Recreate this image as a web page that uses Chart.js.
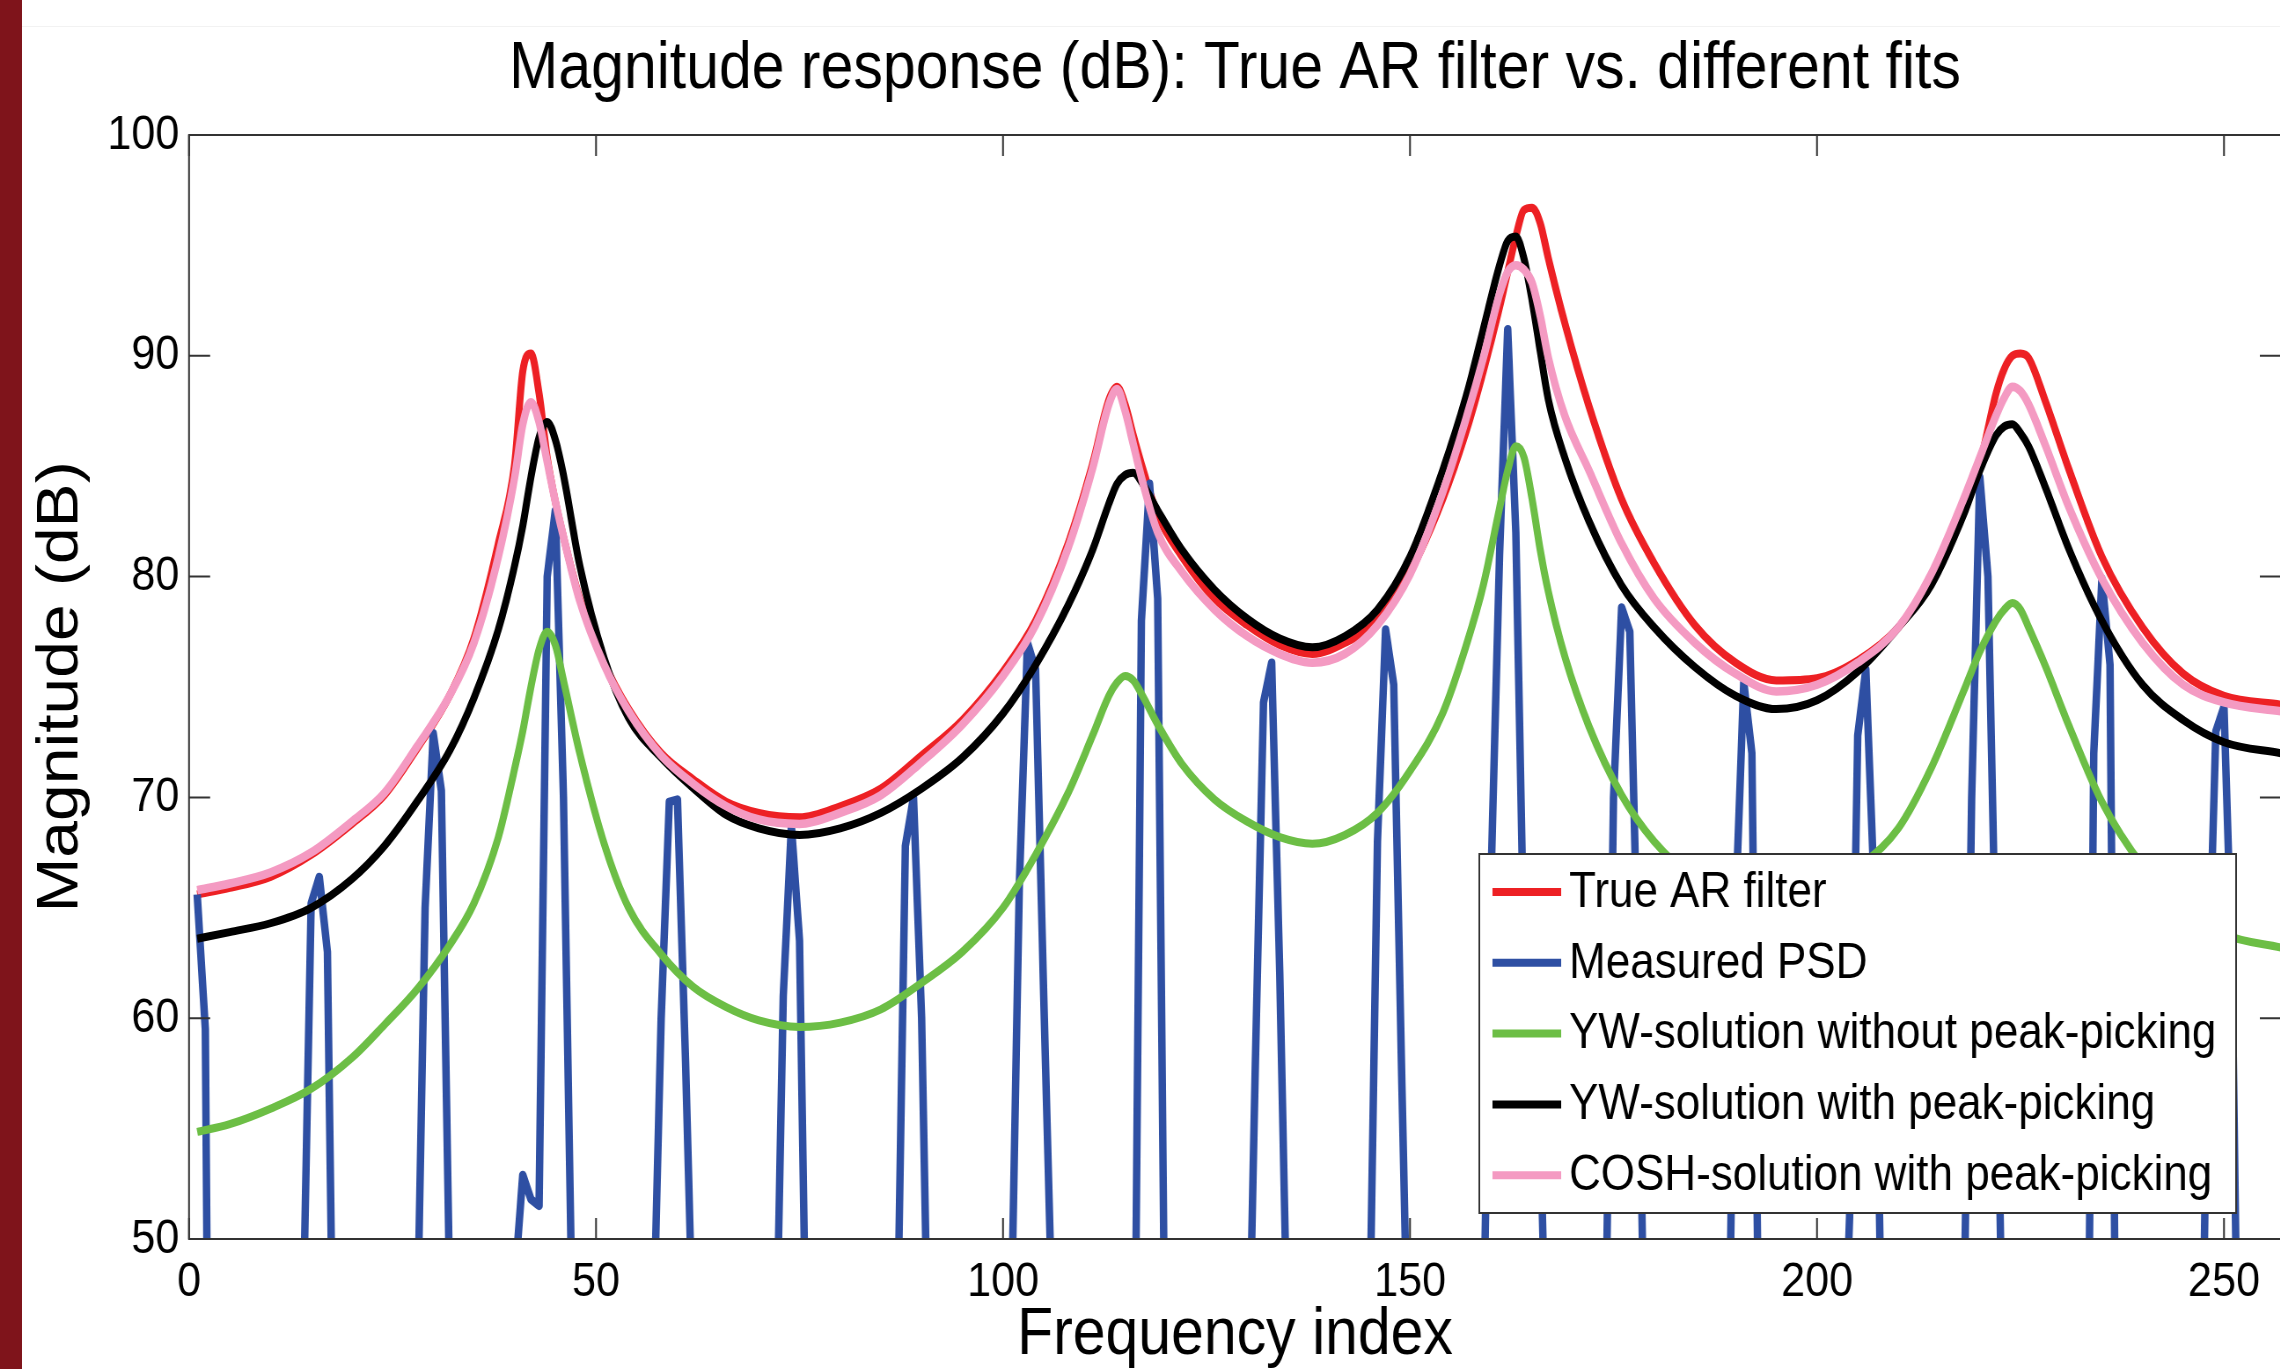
<!DOCTYPE html>
<html>
<head>
<meta charset="utf-8">
<script src="https://cdn.jsdelivr.net/npm/chart.js@4.4.1/dist/chart.umd.min.js"></script>
<style>
  html, body { margin: 0; padding: 0; background: #fff; overflow: hidden; }
  #page { position: relative; width: 2280px; height: 1369px; overflow: hidden; background: #fff; }
  #bar { position: absolute; left: 0; top: 0; width: 22px; height: 1369px; background: #7f141b; }
  #rule { position: absolute; left: 22px; top: 26px; width: 2258px; height: 1px; background: #f2f2f2; }
  /* the source figure is squeezed horizontally, so draw wide and squeeze */
  #squeeze { position: absolute; left: 0; top: 0; width: 2592px; height: 1400px; transform: scaleX(0.88); transform-origin: 0 0; }
  canvas { display: block; }
</style>
</head>
<body>
<div id="page">
  <div id="squeeze"><canvas id="chart" width="2592" height="1400"></canvas></div>
  <div id="rule"></div>
  <div id="bar"></div>
</div>
<script>
// frequency index grid for the model curves
const freqIdx = [1, 5, 10, 15, 20, 24, 28, 32, 35, 38,
  40, 41, 42, 43, 44, 45, 46, 48, 51, 54,
  58, 62, 66, 70, 75, 80, 85, 90, 95, 100,
  104, 108, 111, 113, 114, 115, 116, 117, 119, 122,
  126, 130, 134, 138, 142, 146, 150, 154, 157, 159,
  161, 162, 163, 164, 165, 166, 167, 169, 172, 176,
  180, 185, 190, 195, 200, 205, 210, 214, 218, 220,
  222, 223, 224, 225, 226, 228, 231, 235, 240, 245,
  250, 257];

const trueAR = [65.6, 65.9, 66.4, 67.4, 68.8, 70.1, 72.2, 74.6, 77.2, 81.5,
  85.1, 89.3, 90.1, 88.3, 85.4, 83.4, 81.8, 79.0, 76.1, 74.0,
  72.0, 70.8, 69.8, 69.3, 69.1, 69.6, 70.4, 71.9, 73.5, 75.7,
  78.0, 81.5, 85.1, 88.0, 88.6, 87.8, 86.4, 85.1, 82.8, 80.9,
  79.0, 77.8, 76.9, 76.5, 77.0, 78.0, 80.2, 83.5, 86.7, 89.3,
  92.2, 93.8, 95.4, 96.6, 96.7, 96.0, 94.4, 91.5, 87.7, 83.5,
  80.6, 77.8, 76.1, 75.3, 75.4, 76.2, 77.7, 79.9, 83.1, 85.1,
  88.3, 89.4, 90.0, 90.1, 89.9, 88.0, 84.8, 80.9, 77.7, 75.6,
  74.6, 74.2];

const ywNoPeak = [54.85, 55.2, 55.9, 56.8, 58.2, 59.7, 61.3, 63.3, 65.2, 68.2,
  71.3, 73.0, 75.0, 76.7, 77.5, 76.9, 75.3, 72.0, 67.9, 65.0,
  62.9, 61.4, 60.5, 59.9, 59.6, 59.8, 60.4, 61.6, 63.0, 65.0,
  67.4, 70.2, 72.8, 74.6, 75.2, 75.5, 75.3, 74.7, 73.3, 71.5,
  69.9, 68.9, 68.2, 67.9, 68.3, 69.3, 71.2, 73.8, 77.0, 79.6,
  83.1, 84.8, 85.9, 85.4, 83.5, 81.2, 79.3, 76.4, 73.2, 70.1,
  68.0, 66.3, 65.4, 65.1, 65.5, 66.8, 68.6, 71.3, 74.8, 76.6,
  78.0, 78.5, 78.8, 78.5, 77.7, 76.0, 73.2, 69.8, 66.9, 65.0,
  63.8, 63.2];

const ywPeak = [63.6, 63.9, 64.3, 65.0, 66.3, 67.8, 69.8, 72.1, 74.5, 77.6,
  80.5, 82.3, 84.5, 86.3, 87.0, 86.2, 84.6, 80.5, 76.3, 73.6,
  71.8, 70.4, 69.2, 68.6, 68.3, 68.6, 69.3, 70.4, 71.8, 73.8,
  76.0, 78.7, 81.2, 83.3, 84.2, 84.6, 84.7, 84.3, 83.0, 81.2,
  79.4, 78.1, 77.2, 76.8, 77.3, 78.5, 80.9, 84.8, 88.3, 91.2,
  94.1, 95.2, 95.4, 94.4, 92.5, 90.2, 88.0, 85.4, 82.5, 79.6,
  77.7, 75.9, 74.6, 74.0, 74.4, 75.7, 77.7, 79.6, 82.8, 84.8,
  86.4, 86.8, 86.9, 86.5, 85.9, 84.1, 81.2, 78.0, 75.1, 73.5,
  72.5, 72.0];

const coshPeak = [65.8, 66.1, 66.6, 67.5, 68.9, 70.2, 72.3, 74.6, 77.0, 80.9,
  84.5, 86.9, 87.9, 87.0, 85.2, 83.4, 81.8, 78.9, 76.0, 73.9,
  71.9, 70.6, 69.6, 69.0, 68.8, 69.3, 70.1, 71.6, 73.3, 75.5,
  77.8, 81.3, 84.9, 87.8, 88.5, 87.5, 86.0, 84.5, 82.0, 80.2,
  78.5, 77.3, 76.5, 76.1, 76.5, 77.8, 80.1, 83.8, 87.3, 89.9,
  92.8, 93.8, 94.1, 93.9, 93.3, 91.8, 89.9, 87.3, 84.8, 81.5,
  79.0, 77.0, 75.6, 74.8, 75.1, 76.1, 77.7, 80.1, 83.5, 85.4,
  87.3, 88.1, 88.6, 88.4, 87.8, 86.0, 83.1, 79.9, 77.0, 75.1,
  74.3, 73.9];

// measured PSD: narrow harmonic spikes, deep troughs fall below the axis
const psdIdx = [1, 2, 3,
  13, 14, 15, 16, 17, 18, 19,
  27, 28, 29, 30, 31, 32, 33,
  39, 40, 41, 42, 43, 44, 45, 46, 47, 48,
  56, 57, 58, 59, 60, 61, 62, 63,
  71, 72, 73, 74, 75, 76, 77,
  86, 87, 88, 89, 90, 91, 92,
  100, 101, 102, 103, 104, 105, 106, 107,
  115, 116, 117, 118, 119, 120, 121,
  129, 130, 131, 132, 133, 134, 135, 136,
  144, 145, 146, 147, 148, 149, 150, 151,
  158, 159, 160, 161, 162, 163, 164, 165, 166, 167, 168,
  173, 174, 175, 176, 177, 178, 179, 180,
  188, 189, 190, 191, 192, 193, 194,
  202, 203, 204, 205, 206, 207, 208, 209,
  217, 218, 219, 220, 221, 222, 223, 224,
  232, 233, 234, 235, 236, 237, 238,
  246, 247, 248, 249, 250, 251, 252, 253, 257];
const psdVal = [65.6, 59.5, 10,
  10, 46, 65.2, 66.4, 63, 35, 10,
  10, 45, 65, 72.9, 70.3, 48, 10,
  10, 48, 52.9, 51.8, 51.5, 80, 83, 70, 48, 10,
  10, 45, 60, 69.8, 69.9, 58, 44, 10,
  10, 42, 61, 68.7, 63.5, 40, 10,
  10, 45, 67.8, 70, 60, 40, 10,
  10, 46, 66, 77, 75.8, 61, 47, 10,
  10, 35, 78, 84.2, 79, 40, 10,
  10, 40, 58, 74.3, 76.1, 62, 44, 10,
  10, 45, 68, 77.6, 75.1, 57, 40, 10,
  10, 45, 67, 81, 91.2, 82, 63, 59, 55, 40, 10,
  10, 45, 70, 78.6, 77.5, 62, 40, 10,
  10, 40, 65, 75.2, 72, 40, 10,
  10, 40, 51, 72.8, 75.8, 66, 44, 10,
  10, 45, 70, 84.5, 80, 62, 40, 10,
  10, 30, 72, 79.9, 76, 30, 10,
  10, 35, 60, 73, 74.1, 62, 35, 10, 10];

const xTicksStep = 50;
const yTicksStep = 10;

const toPoints = (xs, ys) => xs.map((x, i) => ({x: x, y: ys[i]}));

Chart.defaults.font.family = "'Liberation Sans', Arial, sans-serif";
Chart.defaults.color = '#000';

const axisFrame = {
  id: 'axisFrame',
  afterDatasetsDraw(chart) {
    const {ctx, chartArea: a, scales: {x, y}} = chart;
    ctx.save();
    ctx.strokeStyle = '#333';
    ctx.lineWidth = 2;
    ctx.strokeRect(a.left, a.top, a.right - a.left, a.bottom - a.top);
    ctx.beginPath();
    x.ticks.forEach(t => {
      const px = x.getPixelForValue(t.value);
      ctx.moveTo(px, a.bottom); ctx.lineTo(px, a.bottom - 21);
      ctx.moveTo(px, a.top); ctx.lineTo(px, a.top + 21);
    });
    y.ticks.forEach(t => {
      const py = y.getPixelForValue(t.value);
      ctx.moveTo(a.left, py); ctx.lineTo(a.left + 24, py);
      ctx.moveTo(a.right, py); ctx.lineTo(a.right - 24, py);
    });
    ctx.stroke();
    ctx.restore();
  }
};

const boxLegend = {
  id: 'boxLegend',
  afterDatasetsDraw(chart) {
    const {ctx, chartArea: a} = chart;
    const right = a.right - 51, left = right - 860;
    const bottom = a.bottom - 26, top = bottom - 359;
    ctx.save();
    ctx.fillStyle = '#fff';
    ctx.fillRect(left, top, right - left, bottom - top);
    ctx.strokeStyle = '#333';
    ctx.lineWidth = 2;
    ctx.strokeRect(left, top, right - left, bottom - top);
    ctx.font = "50px 'Liberation Sans', Arial, sans-serif";
    ctx.textBaseline = 'middle';
    ctx.textAlign = 'left';
    chart.data.datasets.forEach((ds, i) => {
      const yy = top + 38 + i * 70.8;
      ctx.strokeStyle = ds.borderColor;
      ctx.lineWidth = 8;
      ctx.beginPath();
      ctx.moveTo(left + 15, yy);
      ctx.lineTo(left + 93, yy);
      ctx.stroke();
      ctx.fillStyle = '#000';
      ctx.fillText(ds.label, left + 102, yy + 1);
    });
    ctx.restore();
  }
};

const lineStyle = {pointRadius: 0, fill: false, clip: 0, borderJoinStyle: 'round'};

new Chart(document.getElementById('chart'), {
  type: 'line',
  data: {
    datasets: [
      {...lineStyle, label: 'True AR filter', data: toPoints(freqIdx, trueAR),
        borderColor: '#ed2024', borderWidth: 8, cubicInterpolationMode: 'monotone', order: 5},
      {...lineStyle, label: 'Measured PSD', data: toPoints(psdIdx, psdVal),
        borderColor: '#2e4fa3', borderWidth: 8.5, tension: 0, order: 4},
      {...lineStyle, label: 'YW-solution without peak-picking', data: toPoints(freqIdx, ywNoPeak),
        borderColor: '#6cbe45', borderWidth: 8, cubicInterpolationMode: 'monotone', order: 3},
      {...lineStyle, label: 'YW-solution with peak-picking', data: toPoints(freqIdx, ywPeak),
        borderColor: '#000000', borderWidth: 8, cubicInterpolationMode: 'monotone', order: 2},
      {...lineStyle, label: 'COSH-solution with peak-picking', data: toPoints(freqIdx, coshPeak),
        borderColor: '#f49ac2', borderWidth: 8.5, cubicInterpolationMode: 'monotone', order: 1}
    ]
  },
  options: {
    responsive: false,
    animation: false,
    devicePixelRatio: 1,
    layout: {padding: 0},
    plugins: {
      legend: {display: false},
      tooltip: {enabled: false},
      title: {
        display: true,
        fullSize: false,
        text: 'Magnitude response (dB): True AR filter vs. different fits',
        font: {size: 67, weight: 'normal'},
        color: '#000',
        padding: {top: 29, bottom: 25.6}
      }
    },
    scales: {
      x: {
        type: 'linear',
        min: 0,
        max: 257,
        grid: {display: false, drawTicks: false},
        border: {display: false},
        ticks: {stepSize: xTicksStep, includeBounds: false, autoSkip: false, maxRotation: 0,
          font: {size: 49}, color: '#000', padding: 14},
        title: {display: true, text: 'Frequency index', font: {size: 67}, color: '#000',
          padding: {top: 0, bottom: 24}},
        afterFit: s => { s.height = 161; }
      },
      y: {
        min: 50,
        max: 100,
        grid: {display: false, drawTicks: false},
        border: {display: false},
        ticks: {stepSize: yTicksStep, font: {size: 49}, color: '#000', padding: 11},
        title: {display: true, text: 'Magnitude (dB)', font: {size: 66}, color: '#000',
          padding: {top: 30, bottom: 0}},
        afterFit: s => { s.width = 214.8; }
      }
    }
  },
  plugins: [axisFrame, boxLegend]
});
</script>
</body>
</html>
